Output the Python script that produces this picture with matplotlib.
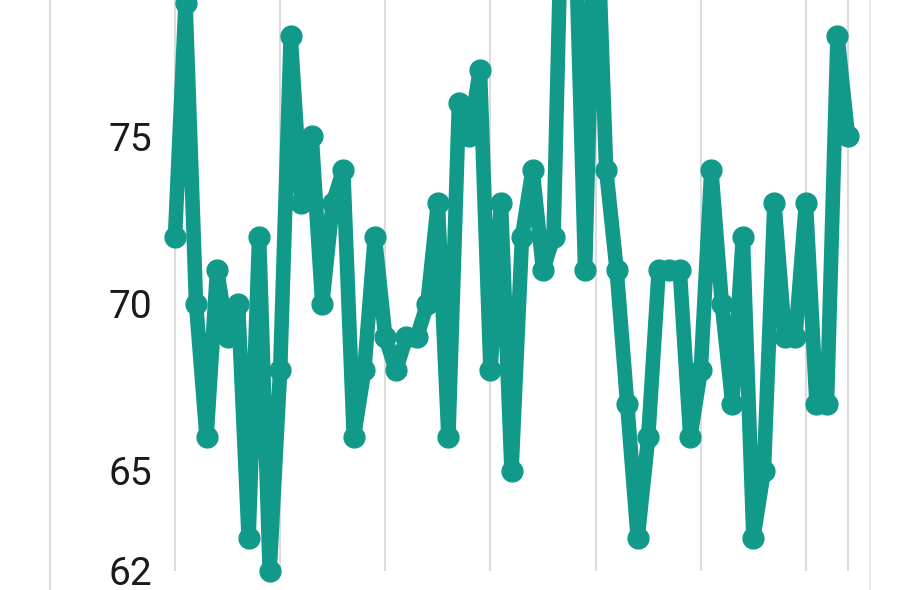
import numpy as np
import matplotlib.pyplot as plt

# values, one per day
values = [72, 79, 70, 66, 71, 69, 70, 63, 72, 62,
          68, 78, 73, 75, 70, 73, 74, 66, 68, 72,
          69, 68, 69, 69, 70, 73, 66, 76, 75, 77,
          68, 73, 65, 72, 74, 71, 72, 85, 82, 71,
          83, 74, 71, 67, 63, 66, 71, 71, 71, 66,
          68, 74, 70, 67, 72, 63, 65, 73, 69, 69,
          73, 67, 67, 78, 75]
x = np.arange(len(values))
x_grid = [0, 10, 20, 30, 40, 50, 60, 64]
y_ticks = [62, 65, 70, 75]

teal = "#11998a"
grid_col = "#dcdcdc"

plt.rcParams['font.family'] = ['Roboto', 'DejaVu Sans']

fig = plt.figure(figsize=(9.21, 5.90), dpi=100)
ax = fig.add_axes([50 / 921, 0, 820 / 921, 1])

# pixel mapping: index 0 -> 175px, index 64 -> 848px (axes spans 50..870px)
px_per = (848 - 175) / 64
ax.set_xlim(-(175 - 50) / px_per, 64 + (870 - 848) / px_per)
ax.set_ylim(61.43, 79.08)

ax.vlines(x_grid, 62, 79.08, color=grid_col, linewidth=1.5, zorder=1)
ax.plot(x, values, color=teal, linewidth=10.5, marker='o', markersize=15,
        solid_joinstyle='round', solid_capstyle='round', zorder=3)

for side in ['top', 'bottom']:
    ax.spines[side].set_visible(False)
ax.spines['left'].set_color(grid_col)
ax.spines['left'].set_linewidth(1.5)
ax.spines['right'].set_color("#ececec")
ax.spines['right'].set_linewidth(1.5)

ax.set_xticks([])
ax.set_yticks(y_ticks)
ax.set_yticklabels([str(v) for v in y_ticks])
ax.tick_params(axis='y', length=0, pad=-73.4, labelsize=28, labelcolor="#1a1a1a")

fig.savefig("out.png", dpi=100)
